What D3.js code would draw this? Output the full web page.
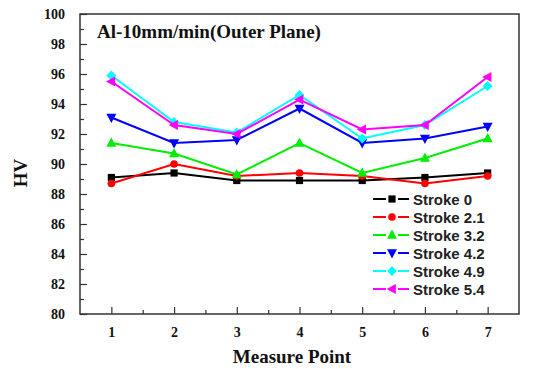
<!DOCTYPE html>
<html>
<head>
<meta charset="utf-8">
<script src="https://cdn.jsdelivr.net/npm/d3@7"></script>
<style>
  body { margin: 0; background: #fff; }
  .tick text { font-family: "Liberation Serif", "Times New Roman", serif; font-weight: bold; }
</style>
</head>
<body>
<div id="chart"></div>
<script>
// values
const points = [1, 2, 3, 4, 5, 6, 7];
const seriesNames = ["Stroke 0", "Stroke 2.1", "Stroke 3.2", "Stroke 4.2", "Stroke 4.9", "Stroke 5.4"];
const stroke0  = [89.1, 89.4, 88.9, 88.9, 88.9, 89.1, 89.4];
const stroke21 = [88.7, 90.0, 89.2, 89.4, 89.2, 88.7, 89.2];
const stroke32 = [91.4, 90.7, 89.3, 91.4, 89.4, 90.4, 91.7];
const stroke42 = [93.1, 91.4, 91.6, 93.7, 91.4, 91.7, 92.5];
const stroke49 = [95.9, 92.8, 92.1, 94.6, 91.7, 92.6, 95.2];
const stroke54 = [95.5, 92.6, 92.0, 94.3, 92.3, 92.6, 95.8];
const yTicks = [80, 82, 84, 86, 88, 90, 92, 94, 96, 98, 100];

const WIDTH = 534;
const HEIGHT = 369;
const MARGIN = { left: 80, right: 15, top: 14, bottom: 55 };

const colors = ["#000000", "#ff0000", "#00ee00", "#0000ff", "#00ffff", "#ff00ff"];
const symbols = ["square", "circle", "triUp", "triDown", "diamond", "triLeft"];
const allSeries = [stroke0, stroke21, stroke32, stroke42, stroke49, stroke54];

const svg = d3.select("#chart").append("svg")
    .attr("width", WIDTH)
    .attr("height", HEIGHT);

const x = d3.scaleLinear()
    .domain([0.5, 7.5])
    .range([MARGIN.left, WIDTH - MARGIN.right]);

const y = d3.scaleLinear()
    .domain([80, 100])
    .range([HEIGHT - MARGIN.bottom, MARGIN.top]);

// minor ticks first, then the major ones, ticks pointing inward
svg.append("g")
   .attr("transform", `translate(0, ${y(80)})`)
   .call(d3.axisTop(x).tickValues(d3.range(1.5, 7, 1)).tickSize(4).tickFormat(""))
   .call(g => g.select(".domain").remove())
   .selectAll("line").attr("stroke", "#333").attr("stroke-width", 1.2);

svg.append("g")
   .attr("transform", `translate(${x(0.5)}, 0)`)
   .call(d3.axisRight(y).tickValues(d3.range(81, 100, 2)).tickSize(4).tickFormat(""))
   .call(g => g.select(".domain").remove())
   .selectAll("line").attr("stroke", "#333").attr("stroke-width", 1.2);

const xAxis = svg.append("g")
    .attr("transform", `translate(0, ${y(80)})`)
    .call(d3.axisBottom(x).tickValues(points).tickFormat(d3.format("d"))
            .tickSizeInner(-7).tickSizeOuter(0).tickPadding(13));
xAxis.select(".domain").remove();
xAxis.selectAll("line").attr("stroke", "#333").attr("stroke-width", 1.2);
xAxis.selectAll("text").attr("font-size", "14px").attr("fill", "#111");

const yAxis = svg.append("g")
    .attr("transform", `translate(${x(0.5)}, 0)`)
    .call(d3.axisLeft(y).tickValues(yTicks).tickSizeInner(-7).tickSizeOuter(0).tickPadding(15));
yAxis.select(".domain").remove();
yAxis.selectAll("line").attr("stroke", "#333").attr("stroke-width", 1.2);
yAxis.selectAll("text").attr("font-size", "14px").attr("fill", "#111");

// frame
svg.append("rect")
   .attr("x", x(0.5))
   .attr("y", y(100))
   .attr("width", x(7.5) - x(0.5))
   .attr("height", y(80) - y(100))
   .attr("fill", "none")
   .attr("stroke", "#333")
   .attr("stroke-width", 1.5);

function drawMarker(g, kind, cx, cy, color)
{
    if (kind === "circle") {
        g.append("circle").attr("cx", cx).attr("cy", cy).attr("r", 3.8).attr("fill", color);
        return;
    }
    let pts;
    const s = 4.4;
    if (kind === "square") pts = [[-3.6, -3.6], [3.6, -3.6], [3.6, 3.6], [-3.6, 3.6]];
    if (kind === "triUp") pts = [[0, -s - 1], [s + 0.6, s - 0.6], [-s - 0.6, s - 0.6]];
    if (kind === "triDown") pts = [[0, s + 1], [s + 0.6, -s + 0.6], [-s - 0.6, -s + 0.6]];
    if (kind === "diamond") pts = [[0, -s - 0.5], [s + 0.5, 0], [0, s + 0.5], [-s - 0.5, 0]];
    if (kind === "triLeft") pts = [[-s - 1, 0], [s - 0.6, -s - 0.6], [s - 0.6, s + 0.6]];
    g.append("polygon")
     .attr("points", pts.map(p => [cx + p[0], cy + p[1]].join(",")).join(" "))
     .attr("fill", color);
}

const line = d3.line()
    .x((d, i) => x(points[i]))
    .y(d => y(d));

allSeries.forEach((values, k) => {
    const g = svg.append("g").attr("class", "series");
    g.append("path")
     .attr("d", line(values))
     .attr("fill", "none")
     .attr("stroke", colors[k])
     .attr("stroke-width", 2);
    values.forEach((v, i) => drawMarker(g, symbols[k], x(points[i]), y(v), colors[k]));
});

// title
svg.append("text")
   .attr("x", 97)
   .attr("y", 38)
   .attr("font-family", "Liberation Serif, Times New Roman, serif")
   .attr("font-weight", "bold")
   .attr("font-size", "19px")
   .attr("fill", "#111")
   .text("Al-10mm/min(Outer Plane)");

// axis titles
svg.append("text")
   .attr("x", 292)
   .attr("y", 363)
   .attr("text-anchor", "middle")
   .attr("font-family", "Liberation Serif, Times New Roman, serif")
   .attr("font-weight", "bold")
   .attr("font-size", "19px")
   .attr("fill", "#111")
   .text("Measure Point");

svg.append("text")
   .attr("transform", "translate(27, 173) rotate(-90)")
   .attr("text-anchor", "middle")
   .attr("font-family", "Liberation Serif, Times New Roman, serif")
   .attr("font-weight", "bold")
   .attr("font-size", "19px")
   .attr("fill", "#111")
   .text("HV");

// legend
const legend = svg.append("g").attr("transform", "translate(373, 199)");
seriesNames.forEach((name, k) => {
    const row = legend.append("g").attr("transform", `translate(0, ${k * 18})`);
    row.append("line").attr("x1", 0).attr("x2", 13).attr("y1", 0).attr("y2", 0)
       .attr("stroke", colors[k]).attr("stroke-width", 2);
    row.append("line").attr("x1", 25).attr("x2", 36).attr("y1", 0).attr("y2", 0)
       .attr("stroke", colors[k]).attr("stroke-width", 2);
    drawMarker(row, symbols[k], 19, 0, colors[k]);
    row.append("text")
       .attr("x", 40)
       .attr("y", 5.5)
       .attr("font-family", "Liberation Sans, Arial, sans-serif")
       .attr("font-weight", "bold")
       .attr("font-size", "15px")
       .attr("fill", "#222")
       .text(name);
});
</script>
</body>
</html>
